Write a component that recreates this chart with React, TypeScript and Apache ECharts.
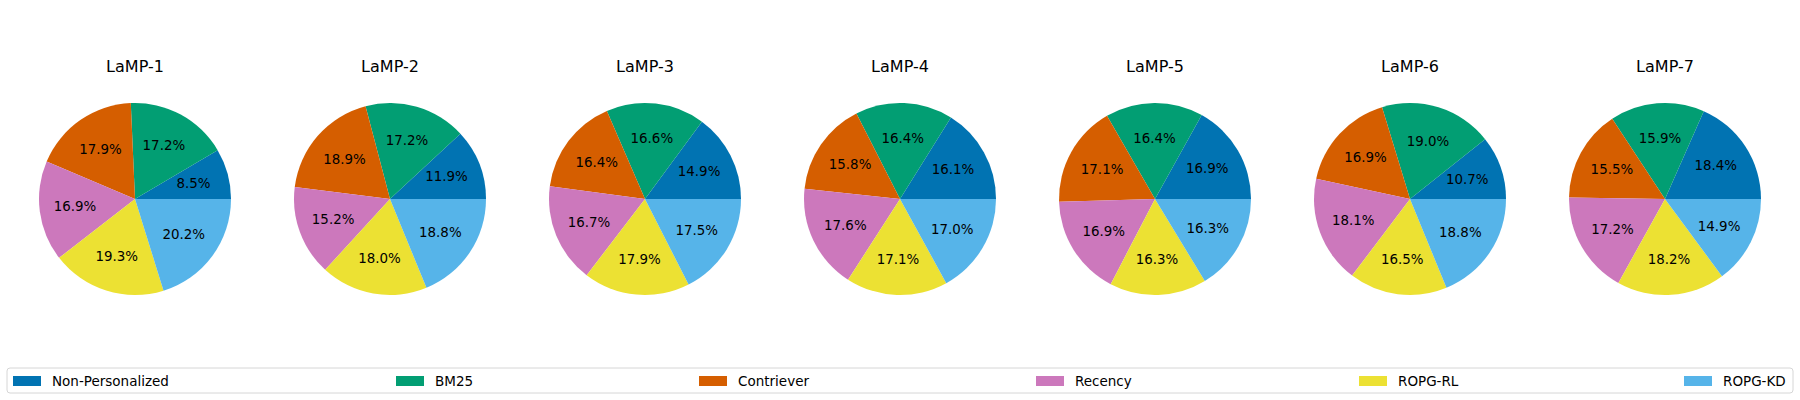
import React, { useEffect, useRef } from "react";
import * as echarts from "echarts";

const methods = ["Non-Personalized", "BM25", "Contriever", "Recency", "ROPG-RL", "ROPG-KD"];
const colors = ["#0173b2", "#029e73", "#d55e00", "#cc78bc", "#ece133", "#56b4e9"];
const tasks = ["LaMP-1", "LaMP-2", "LaMP-3", "LaMP-4", "LaMP-5", "LaMP-6", "LaMP-7"];

const lamp1 = [8.5, 17.2, 17.9, 16.9, 19.3, 20.2];
const lamp2 = [11.9, 17.2, 18.9, 15.2, 18.0, 18.8];
const lamp3 = [14.9, 16.6, 16.4, 16.7, 17.9, 17.5];
const lamp4 = [16.1, 16.4, 15.8, 17.6, 17.1, 17.0];
const lamp5 = [16.9, 16.4, 17.1, 16.9, 16.3, 16.3];
const lamp6 = [10.7, 19.0, 16.9, 18.1, 16.5, 18.8];
const lamp7 = [18.4, 15.9, 15.5, 17.2, 18.2, 14.9];
const values = [lamp1, lamp2, lamp3, lamp4, lamp5, lamp6, lamp7];

// layout
const centersX = [135, 390, 645, 900, 1155, 1410, 1665];
const centerY = 199;
const R = 96;
const legendHandleX = [13, 396, 699, 1036, 1359, 1684];
const FONT = "DejaVu Sans";

export default function App() {
  const ref = useRef<HTMLDivElement>(null);
  useEffect(() => {
    if (!ref.current) return;
    const chart = echarts.init(ref.current, null, { renderer: "svg" });
    const series: any[] = [];
    tasks.forEach((t, i) => {
      const data = methods.map((m, j) => ({
        name: m,
        value: values[i][j],
        itemStyle: { color: colors[j] },
      }));
      series.push({
        type: "pie",
        name: t,
        center: [centersX[i], centerY],
        radius: [0, R],
        startAngle: 0,
        clockwise: false,
        avoidLabelOverlap: false,
        silent: true,
        label: { show: false },
        labelLine: { show: false },
        itemStyle: { borderWidth: 0 },
        data,
      });
      series.push({
        type: "pie",
        name: t + "-labels",
        center: [centersX[i], centerY],
        radius: [R * 0.2, R],
        startAngle: 0,
        clockwise: false,
        avoidLabelOverlap: false,
        silent: true,
        label: {
          show: true,
          position: "inside",
          color: "#000",
          fontFamily: FONT,
          fontSize: 13.4,
          formatter: (p: any) => Number(p.value).toFixed(1) + "%",
        },
        labelLine: { show: false },
        itemStyle: { color: "rgba(0,0,0,0)", borderWidth: 0 },
        data: methods.map((m, j) => ({ name: m, value: values[i][j], itemStyle: { color: "rgba(0,0,0,0)" } })),
      });
    });

    const titles = tasks.map((t, i) => ({
      text: t,
      left: centersX[i],
      top: 56,
      textAlign: "center",
      padding: 0,
      textStyle: { fontFamily: FONT, fontSize: 16, fontWeight: "normal", color: "#000", lineHeight: 20 },
    }));

    const legends = methods.map((m, j) => ({
      data: [m],
      left: legendHandleX[j],
      top: 374,
      padding: 0,
      icon: "rect",
      itemWidth: 28,
      itemHeight: 10,
      selectedMode: false,
      textStyle: { fontFamily: FONT, fontSize: 13.5, color: "#000", padding: [0, 0, 0, 6] },
    }));

    chart.setOption({
      animation: false,
      backgroundColor: "#fff",
      title: titles,
      legend: legends,
      graphic: [
        {
          type: "rect",
          z: -10,
          shape: { x: 7, y: 368, width: 1786, height: 25, r: 3 },
          style: { fill: "#fff", stroke: "#d6d6d6", lineWidth: 1 },
          silent: true,
        },
      ],
      series,
    });
    return () => chart.dispose();
  }, []);
  return <div ref={ref} style={{ position: "fixed", left: 0, top: 0, width: 1800, height: 400 }} />;
}
